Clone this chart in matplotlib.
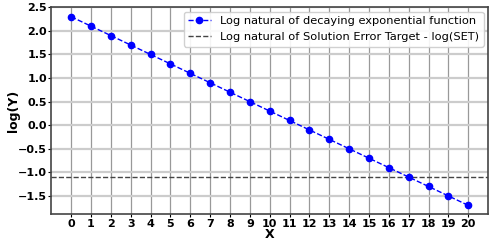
import matplotlib
matplotlib.use('Agg')
import matplotlib.pyplot as plt

# valores
x_vals = [0, 1, 2, 3, 4, 5, 6, 7, 8, 9, 10, 11, 12, 13, 14, 15, 16, 17, 18, 19, 20]
log_y = [2.3, 2.1, 1.9, 1.7, 1.5, 1.3, 1.1, 0.9, 0.7, 0.5, 0.3, 0.1, -0.1, -0.3,
         -0.5, -0.7, -0.9, -1.1, -1.3, -1.5, -1.7]
log_set = -1.0986

fig, ax = plt.subplots(figsize=(4.93, 2.43), dpi=100)

ax.plot(x_vals, log_y, 'b--', marker='o', markersize=4.5, linewidth=1,
        label='Log natural of decaying exponential function', zorder=3)
ax.axhline(log_set, color='#444444', linestyle='--', linewidth=1,
           label='Log natural of Solution Error Target - log(SET)', zorder=2)

ax.set_xlim(-1, 21)
ax.set_ylim(-1.88, 2.5)
ax.set_xticks(x_vals)
ax.set_yticks([-1.5, -1.0, -0.5, 0.0, 0.5, 1.0, 1.5, 2.0, 2.5])

ax.grid(axis='x', color='#999999', linewidth=0.9)
ax.grid(axis='y', color='#cccccc', linewidth=1.6)
ax.set_axisbelow(True)

for lbl in ax.get_xticklabels() + ax.get_yticklabels():
    lbl.set_fontweight('bold')
    lbl.set_fontsize(8)
ax.tick_params(axis='x', length=2, pad=1.5)
ax.tick_params(axis='y', length=2, pad=1)

ax.set_xlabel('X', fontsize=9, fontweight='bold')
ax.set_ylabel('log(Y)', fontsize=9, fontweight='bold')
ax.xaxis.set_label_coords(0.5, -0.07)
ax.yaxis.set_label_coords(-0.071, 0.5)

for s in ax.spines.values():
    s.set_color('#444444')
    s.set_linewidth(1.2)

ax.legend(loc='upper right', fontsize=8.2, framealpha=0.9, borderaxespad=0.4)

plt.subplots_adjust(left=0.104, right=0.99, top=0.97, bottom=0.12)
plt.savefig('out.png', dpi=100)
